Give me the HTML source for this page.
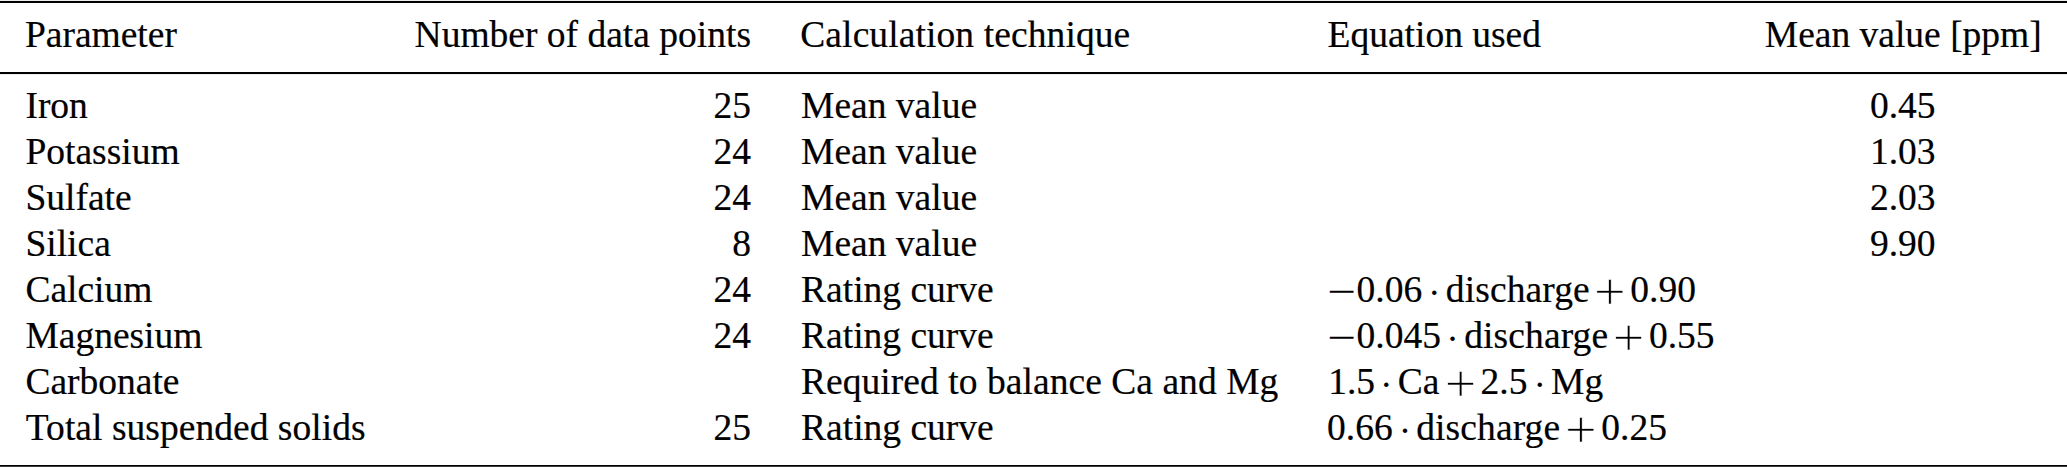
<!DOCTYPE html>
<html><head><meta charset="utf-8"><title>Table</title>
<style>
html,body{margin:0;padding:0;background:#fff;}
body{width:2067px;height:467px;position:relative;overflow:hidden;font-family:"Liberation Serif",serif;font-size:37.5px;color:#000;}
.c{position:absolute;white-space:nowrap;height:61px;line-height:61px;-webkit-text-stroke:0.2px #000;}
.mn{-webkit-text-stroke:0;}
.dt{-webkit-text-stroke:0;}
.r{text-align:right}
.m{text-align:center}
.pl{height:80px;line-height:80px;-webkit-text-stroke:0.75px #fff;}
.rule{position:absolute;left:0;width:2067px;background:#000;}
</style></head><body>
<div class="rule" style="top:0;height:1px;background:#ececec"></div>
<div class="rule" style="top:1px;height:2px"></div>
<div class="rule" style="top:72px;height:2px"></div>
<div class="rule" style="top:74px;height:1px;background:#ececec"></div>
<div class="rule" style="top:465px;height:1px"></div>
<div class="rule" style="top:466px;height:1px;background:#3c3c3c"></div>
<div class="row head">
<div class="c" style="left:24.90px;top:4.00px;">Parameter</div>
<div class="c r" style="left:151.00px;top:4.00px;width:600px;">Number of data points</div>
<div class="c" style="left:800.25px;top:4.00px;letter-spacing:0.1px;">Calculation technique</div>
<div class="c m" style="left:1603.30px;top:4.00px;width:600px;">Mean value [ppm]</div>
<div class="c" style="left:1327.50px;top:4.00px;">Equation used</div>
</div>
<div class="row">
<div class="c" style="left:25.40px;top:75.00px;">Iron</div>
<div class="c r" style="left:151.00px;top:75.00px;width:600px;">25</div>
<div class="c" style="left:801.10px;top:75.00px;">Mean value</div>
<div class="c m" style="left:1602.70px;top:75.00px;width:600px;">0.45</div>
</div>
<div class="row">
<div class="c" style="left:25.40px;top:121.00px;">Potassium</div>
<div class="c r" style="left:151.00px;top:121.00px;width:600px;">24</div>
<div class="c" style="left:801.10px;top:121.00px;">Mean value</div>
<div class="c m" style="left:1602.70px;top:121.00px;width:600px;">1.03</div>
</div>
<div class="row">
<div class="c" style="left:25.40px;top:167.00px;">Sulfate</div>
<div class="c r" style="left:151.00px;top:167.00px;width:600px;">24</div>
<div class="c" style="left:801.10px;top:167.00px;">Mean value</div>
<div class="c m" style="left:1602.70px;top:167.00px;width:600px;">2.03</div>
</div>
<div class="row">
<div class="c" style="left:25.40px;top:213.00px;">Silica</div>
<div class="c r" style="left:151.00px;top:213.00px;width:600px;">8</div>
<div class="c" style="left:801.10px;top:213.00px;">Mean value</div>
<div class="c m" style="left:1602.70px;top:213.00px;width:600px;">9.90</div>
</div>
<div class="row">
<div class="c" style="left:25.40px;top:259.00px;">Calcium</div>
<div class="c r" style="left:151.00px;top:259.00px;width:600px;">24</div>
<div class="c" style="left:801.10px;top:259.00px;">Rating curve</div>
<div class="eq">
<div class="c mn" style="left:1331.26px;top:261.00px;transform:scaleX(1.3582);transform-origin:10.59px 50%;">−</div>
<div class="c" style="left:1356.57px;top:259.00px;">0.06</div>
<div class="c dt" style="left:1428.06px;top:262.00px;">·</div>
<div class="c" style="left:1445.85px;top:259.00px;letter-spacing:0.1px;">discharge</div>
<div class="c pl" style="left:1594.03px;top:250.00px;font-size:56.2px;transform:scaleY(0.94);transform-origin:50% 53.43px;">+</div>
<div class="c" style="left:1630.27px;top:259.00px;">0.90</div>
</div>
</div>
<div class="row">
<div class="c" style="left:25.40px;top:305.00px;">Magnesium</div>
<div class="c r" style="left:151.00px;top:305.00px;width:600px;">24</div>
<div class="c" style="left:801.10px;top:305.00px;">Rating curve</div>
<div class="eq">
<div class="c mn" style="left:1331.26px;top:307.00px;transform:scaleX(1.3582);transform-origin:10.59px 50%;">−</div>
<div class="c" style="left:1356.57px;top:305.00px;">0.045</div>
<div class="c dt" style="left:1446.36px;top:308.00px;">·</div>
<div class="c" style="left:1464.25px;top:305.00px;letter-spacing:0.1px;">discharge</div>
<div class="c pl" style="left:1612.73px;top:296.00px;font-size:56.2px;transform:scaleY(0.94);transform-origin:50% 53.43px;">+</div>
<div class="c" style="left:1648.97px;top:305.00px;">0.55</div>
</div>
</div>
<div class="row">
<div class="c" style="left:25.40px;top:351.00px;">Carbonate</div>
<div class="c" style="left:801.00px;top:351.00px;letter-spacing:0.05px;">Required to balance Ca and Mg</div>
<div class="eq">
<div class="c" style="left:1328.20px;top:351.00px;">1.5</div>
<div class="c dt" style="left:1380.06px;top:354.00px;">·</div>
<div class="c" style="left:1397.86px;top:351.00px;">Ca</div>
<div class="c pl" style="left:1444.63px;top:342.00px;font-size:56.2px;transform:scaleY(0.94);transform-origin:50% 53.43px;">+</div>
<div class="c" style="left:1480.55px;top:351.00px;">2.5</div>
<div class="c dt" style="left:1533.56px;top:354.00px;">·</div>
<div class="c" style="left:1551.12px;top:351.00px;">Mg</div>
</div>
</div>
<div class="row">
<div class="c" style="left:25.80px;top:397.00px;letter-spacing:0.035px;">Total suspended solids</div>
<div class="c r" style="left:151.00px;top:397.00px;width:600px;">25</div>
<div class="c" style="left:801.10px;top:397.00px;">Rating curve</div>
<div class="eq">
<div class="c" style="left:1327.07px;top:397.00px;">0.66</div>
<div class="c dt" style="left:1398.66px;top:400.00px;">·</div>
<div class="c" style="left:1416.25px;top:397.00px;letter-spacing:0.1px;">discharge</div>
<div class="c pl" style="left:1564.93px;top:388.00px;font-size:56.2px;transform:scaleY(0.94);transform-origin:50% 53.43px;">+</div>
<div class="c" style="left:1601.27px;top:397.00px;">0.25</div>
</div>
</div>

</body></html>
